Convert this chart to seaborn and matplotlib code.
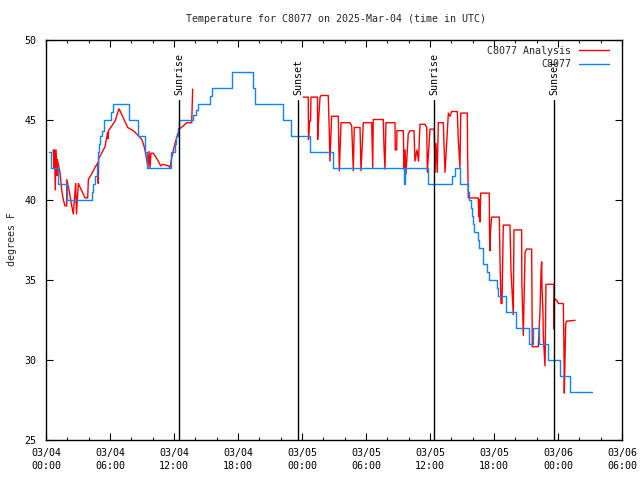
import numpy as np
import pandas as pd
import matplotlib
matplotlib.use("Agg")
import matplotlib.pyplot as plt
import matplotlib.dates as mdates
from matplotlib.lines import Line2D
import seaborn as sns

# ---------------- data (hours since 2025-03-04 00:00 UTC) ----------------
obs_hours = [0.28, 0.47, 1.15, 1.94, 4.12, 4.28, 4.44, 4.6, 4.75, 4.84, 4.97, 5.06, 5.28, 5.47,
             6.09, 6.31, 7.81, 8.65, 9.3, 9.45, 11.62, 11.7, 12.1, 12.2, 12.4, 12.5,
             13.81, 14.06, 14.28, 15.37, 15.53, 17.41, 19.4, 19.59, 22.25, 22.97,
             24.75, 26.93, 33.56, 33.65, 35.84, 38.09, 38.34, 38.81, 39.56, 39.69,
             39.84, 39.94, 40.06, 40.12, 40.53, 40.62, 41.0, 41.31, 41.56, 42.25, 42.4,
             43.12, 44.09, 45.31, 45.61, 46.19, 47.09, 48.19, 49.13, 51.23]
obs_temp = [43, 42, 41, 40, 40, 40.5, 41, 41.5, 42, 43, 43.5, 44, 44.3, 45,
            45.5, 46, 45, 44, 43, 42, 42, 43, 43.5, 44, 44.5, 45,
            45.3, 45.6, 46, 46.5, 47, 48, 47, 46, 45, 44,
            43, 42, 41, 42, 41, 41.5, 42, 41, 40.5, 40,
            39.5, 39, 38.5, 38, 37.5, 37, 36, 35.5, 35, 34.5, 34,
            33, 32, 31, 32, 31, 30, 29, 28, 28]

ana1_hours = [0.68, 0.75, 0.8, 0.87, 0.94, 1.03, 1.06, 1.31, 1.47, 1.62, 1.78, 1.94, 1.95,
              2.16, 2.41, 2.56, 2.78, 2.86, 3.03, 3.66, 3.91, 3.97, 4.28, 4.59, 4.87, 4.9,
              4.93, 5.06, 5.53, 5.78, 5.81, 5.86, 6.47, 6.84, 7.25, 7.66, 8.18, 8.65, 8.97,
              9.12, 9.28, 9.44, 9.56, 9.66, 9.75, 9.84, 10.06, 10.53, 10.75, 10.94, 11.47,
              11.62, 11.78, 12.09, 12.5, 12.87, 13.19, 13.66, 13.75]
ana1_temp = [43.1, 42.0, 43.1, 40.6, 43.1, 41.5, 42.5, 41.7, 40.6, 40.0, 39.6, 39.6, 41.25,
             40.6, 39.6, 39.1, 41.0, 39.1, 41.0, 40.1, 40.1, 41.25, 41.6, 42.0, 42.3, 41.0,
             42.5, 42.7, 43.3, 44.2, 43.8, 44.3, 44.9, 45.67, 45.1, 44.5, 44.3, 44.0, 43.75,
             43.5, 43.1, 42.5, 42.0, 43.0, 42.0, 42.9, 42.9, 42.4, 42.1, 42.2, 42.1,
             42.0, 42.6, 43.5, 44.4, 44.6, 44.8, 44.8, 46.9]

ana2_hours = [24.12, 24.59, 24.61, 24.7, 24.8, 24.84, 25.45, 25.47, 25.55, 25.69, 25.78, 26.46,
              26.56, 26.62, 26.78, 27.4, 27.5, 27.66, 28.5, 28.66, 28.81, 28.9, 29.44, 29.53,
              29.75, 30.53, 30.63, 30.68, 31.62, 31.69, 31.78, 31.87, 32.72, 32.74, 32.88,
              32.9, 33.5, 33.56, 33.66, 33.75, 33.96, 34.12, 34.5, 34.59, 34.78, 34.92, 35.06,
              35.53, 35.69, 35.75, 36.0, 36.4, 36.47, 36.56, 36.68, 36.78, 37.25, 37.31, 37.41,
              37.72, 37.87, 38.03, 38.56, 38.65, 38.81, 38.88, 39.5, 39.53, 39.59, 40.53, 40.58,
              40.62, 40.69, 40.75, 41.56, 41.58, 41.62, 41.67, 41.78, 42.5, 42.56, 42.66, 42.75,
              42.87, 43.5, 43.59, 43.81, 43.87, 44.59, 44.61, 44.75, 44.91, 45.05, 45.53, 45.56,
              45.59, 46.15, 46.31, 46.41, 46.47, 46.5, 46.59, 46.62, 46.78, 46.81, 46.87, 47.62,
              47.63, 47.67, 47.88, 48.03, 48.5, 48.56, 48.59, 48.72, 48.81, 49.59]
ana2_temp = [46.4, 46.4, 43.75, 44.9, 44.9, 46.4, 46.4, 43.75, 44.9, 46.4, 46.5, 46.5,
             44.2, 42.4, 45.2, 45.2, 41.8, 44.8, 44.8, 44.6, 41.8, 44.5, 44.5, 41.8,
             44.8, 44.8, 42.0, 45.0, 45.0, 43.2, 41.9, 44.8, 44.8, 43.1, 43.1,
             44.3, 44.3, 41.9, 43.1, 41.6, 44.1, 44.3, 44.3, 42.4, 43.1, 42.4, 44.7,
             44.7, 44.5, 41.7, 44.4, 44.4, 41.7, 43.5, 41.7, 44.8, 44.8, 43.5, 41.7,
             45.4, 45.2, 45.5, 45.5, 43.75, 42.0, 45.4, 45.4, 42.7, 40.1, 40.1, 38.9,
             40.0, 38.6, 40.4, 40.4, 37.9, 36.8, 38.0, 38.9, 38.9, 36.25, 33.5, 33.5,
             38.4, 38.4, 35.6, 32.8, 38.1, 38.1, 34.8, 31.5, 36.7, 36.9, 36.9, 34.0,
             30.8, 30.8, 33.0, 35.5, 36.1, 34.5, 33.0, 31.5, 29.6, 30.8, 34.7, 34.7,
             31.9, 33.8, 33.7, 33.5, 33.5, 30.6, 27.9, 32.2, 32.4, 32.45]

sun_hours = [12.47, 23.65, 36.4, 47.65]
sun_labels = ["Sunrise", "Sunset", "Sunrise", "Sunset"]

series_labels = ["C8077 Analysis", "C8077"]
title = "Temperature for C8077 on 2025-Mar-04 (time in UTC)"
ylabel = "degrees F"

# ---------------- build frames ----------------
t0 = pd.Timestamp("2025-03-04 00:00")
def to_time(h):
    return t0 + pd.to_timedelta(np.asarray(h, dtype=float), unit="h")

obs_df = pd.DataFrame({"time": to_time(obs_hours), "temp": obs_temp})
ana_df = pd.concat([
    pd.DataFrame({"time": to_time(ana1_hours), "temp": ana1_temp, "seg": 0}),
    pd.DataFrame({"time": to_time(ana2_hours), "temp": ana2_temp, "seg": 1}),
], ignore_index=True)

# ---------------- style ----------------
sns.set_theme(style="ticks")
plt.rcParams["font.family"] = ["DejaVu Sans Mono"]
plt.rcParams["font.size"] = 7.2

RED = "#ff0000"
BLUE = "#0a84ff"

fig = plt.figure(figsize=(6.4, 4.8), dpi=100)
ax = fig.add_axes([46 / 640, 1 - 439.5 / 480, 576 / 640, 400 / 480])

sns.lineplot(data=ana_df, x="time", y="temp", units="seg", estimator=None,
             color=RED, lw=1.0, ax=ax, legend=False)
sns.lineplot(data=obs_df, x="time", y="temp", color=BLUE, lw=1.0,
             drawstyle="steps-post", ax=ax, legend=False)

# sunrise / sunset markers
for h, lab in zip(sun_hours, sun_labels):
    t = to_time([h])[0]
    ax.axvline(t, ymin=0, ymax=(46.25 - 25) / 25, color="black", lw=1.0)
    ax.text(t, 46.55, lab, rotation=90, ha="center", va="bottom", fontsize=7.2,
            color="black")

ax.set_xlim(t0, t0 + pd.Timedelta(hours=54))
ax.set_ylim(25, 50)
ax.set_yticks([25, 30, 35, 40, 45, 50])
ax.xaxis.set_major_locator(mdates.HourLocator(byhour=[0, 6, 12, 18]))
ax.xaxis.set_minor_locator(mdates.HourLocator(byhour=range(0, 24, 2)))
ax.xaxis.set_major_formatter(mdates.DateFormatter("%m/%d\n%H:%M"))
for lab in ax.get_xticklabels():
    lab.set_linespacing(1.45)

ax.tick_params(axis="both", which="major", direction="in", length=5, width=0.8,
               top=True, right=True, labelsize=7.2, colors="black")
ax.tick_params(axis="both", which="minor", direction="in", length=2.5, width=0.8,
               top=True, right=True)
ax.tick_params(axis="y", pad=7)
ax.tick_params(axis="x", pad=6)
for sp in ax.spines.values():
    sp.set_color("black")
    sp.set_linewidth(1.0)

ax.set_xlabel("")
ax.set_ylabel(ylabel, fontsize=7.2, labelpad=5)
fig.text(336 / 640, 1 - 19 / 480, title, ha="center", va="center", fontsize=7.2)

handles = [Line2D([], [], color=RED, lw=1.0), Line2D([], [], color=BLUE, lw=1.0)]
ax.legend(handles, series_labels, loc="upper right",
          bbox_to_anchor=(1 - 10 / 576, 1 - 3 / 400),
          frameon=False, markerfirst=False, handlelength=3.0, handletextpad=0.8,
          borderaxespad=0.0, borderpad=0.3, labelspacing=0.35, fontsize=7.2)

fig.savefig("out.png", dpi=100)
